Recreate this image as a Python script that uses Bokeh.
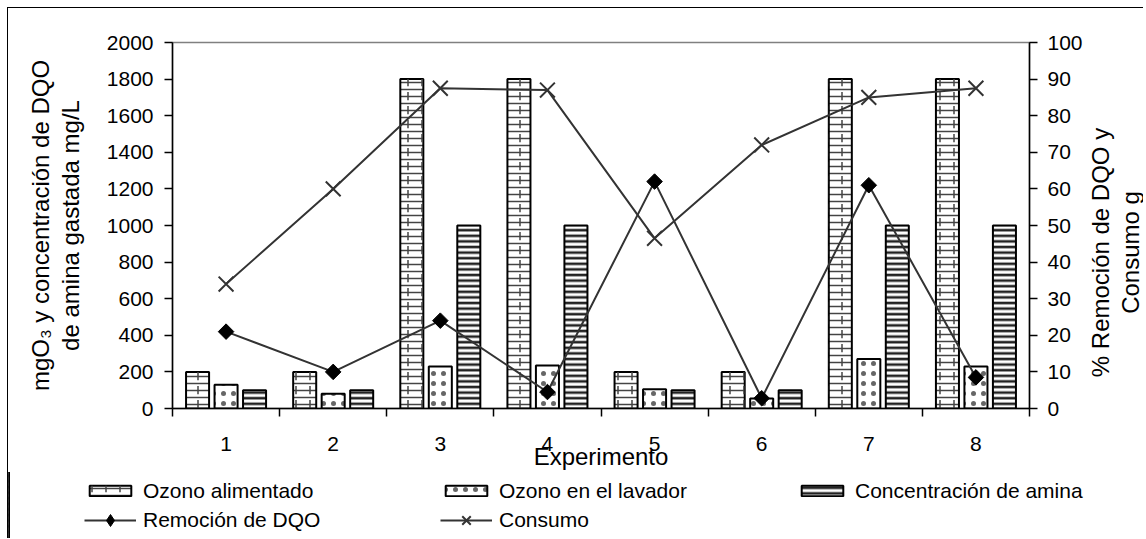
import math
from bokeh.plotting import figure
from bokeh.layouts import column, row
from bokeh.models import (Range1d, LinearAxis, FixedTicker, Legend, LegendItem,
                          ColumnDataSource)
from bokeh.core.properties import value
from bokeh.transform import dodge
from bokeh.embed import file_html
from bokeh.resources import INLINE

# ---------------- data ----------------
experimentos = [1, 2, 3, 4, 5, 6, 7, 8]
ozono_alimentado = [200, 200, 1800, 1800, 200, 200, 1800, 1800]
ozono_lavador = [130, 80, 230, 235, 105, 55, 270, 230]
concentracion_amina = [100, 100, 1000, 1000, 100, 100, 1000, 1000]
remocion_dqo = [21, 10, 24, 4.5, 62, 2.8, 61, 8.5]
consumo = [34, 60, 87.5, 87, 46.5, 72, 85, 87.5]
left_ticks = list(range(0, 2001, 200))
right_ticks = list(range(0, 101, 10))
cat_bounds = [0.5 + i for i in range(9)]
series_names = ["Ozono alimentado", "Ozono en el lavador", "Concentración de amina",
                "Remoción de DQO", "Consumo"]
x_title = "Experimento"
left_title = "mgO\u2083 y concentración de DQO\nde amina gastada mg/L"
right_title = "% Remoción de DQO y\nConsumo g"

src = ColumnDataSource(dict(x=experimentos, alim=ozono_alimentado, lav=ozono_lavador,
                            amina=concentracion_amina, rem=remocion_dqo, cons=consumo))

FONT = "Liberation Sans"
LC = "#333333"

BRICK_H = dict(fill_color="white", line_color="black", line_width=2,
               hatch_pattern="horizontal_line", hatch_color="#444444",
               hatch_scale=7, hatch_weight=1.5)
BRICK_V = dict(fill_alpha=0, line_alpha=0,
               hatch_pattern="vertical_dash", hatch_color="#444444",
               hatch_scale=14, hatch_weight=1.5)
DOTS = dict(fill_color="white", line_color="black", line_width=2,
            hatch_pattern="dot", hatch_color="#666666", hatch_scale=10, hatch_weight=0.6)
STRIPES = dict(fill_color="white", line_color="black", line_width=2,
               hatch_pattern="horizontal_line", hatch_color="#222222",
               hatch_scale=5.6, hatch_weight=2.6)
REM_LINE = dict(line_color=LC, line_width=2)
REM_MARK = dict(marker="square", angle=math.pi / 4, size=11, fill_color="black", line_color="black")
REM_MARK_LEG = dict(marker="diamond", size=14, fill_color="black", line_color="black")
CON_LINE = dict(line_color=LC, line_width=2)
CON_MARK = dict(marker="x", size=21, line_color=LC, line_width=2)

W = 0.215
OFF = 0.266

TOTAL_W = 1136
P_W = 1077
P_H = 464
Q_H = 66

# ---------------- main chart ----------------
p = figure(width=P_W, height=P_H, output_backend="svg", toolbar_location=None,
           x_range=Range1d(0.5, 8.5), y_range=Range1d(0, 2000),
           min_border_left=164, min_border_right=54, min_border_top=34, min_border_bottom=64)
p.extra_y_ranges = {"right": Range1d(0, 100)}
p.xgrid.visible = False
p.ygrid.visible = False
p.outline_line_color = "#808080"
p.outline_line_width = 1.5
p.background_fill_color = "white"
p.border_fill_color = "white"

p.vbar(x=dodge("x", -OFF, range=p.x_range), top="alim", width=W, source=src, **BRICK_H)
p.vbar(x=dodge("x", -OFF, range=p.x_range), top="alim", width=W, source=src, **BRICK_V)
p.vbar(x=dodge("x", 0, range=p.x_range), top="lav", width=W, source=src, **DOTS)
p.vbar(x=dodge("x", OFF, range=p.x_range), top="amina", width=W, source=src, **STRIPES)

p.line("x", "rem", source=src, y_range_name="right", **REM_LINE)
p.scatter("x", "rem", source=src, y_range_name="right", **REM_MARK)
p.line("x", "cons", source=src, y_range_name="right", **CON_LINE)
p.scatter("x", "cons", source=src, y_range_name="right", **CON_MARK)

def style_axis(ax):
    ax.axis_line_color = "black"
    ax.axis_line_width = 1.5
    ax.major_tick_line_color = "black"
    ax.major_tick_line_width = 1.5
    ax.minor_tick_line_color = "black"
    ax.minor_tick_line_width = 1.5
    ax.major_label_text_font = FONT
    ax.major_label_text_font_size = "21px"
    ax.major_label_text_color = "black"
    ax.axis_label_text_font = FONT
    ax.axis_label_text_font_size = "24px"
    ax.axis_label_text_font_style = "normal"
    ax.axis_label_text_color = "black"

xa = p.xaxis[0]
style_axis(xa)
xa.ticker = FixedTicker(ticks=experimentos, minor_ticks=cat_bounds)
xa.major_tick_out = 0
xa.major_tick_in = 0
xa.minor_tick_out = 8
xa.minor_tick_in = 0
xa.major_label_standoff = 20
xa.axis_label = x_title
xa.axis_label_standoff = -11

ya = p.yaxis[0]
style_axis(ya)
ya.ticker = FixedTicker(ticks=left_ticks, minor_ticks=[])
ya.major_tick_out = 8
ya.major_tick_in = 0
ya.major_label_standoff = 11
ya.axis_label = left_title
ya.axis_label_text_line_height = 1.1
ya.axis_label_standoff = 20

ra = LinearAxis(y_range_name="right")
style_axis(ra)
ra.ticker = FixedTicker(ticks=right_ticks, minor_ticks=[])
ra.major_tick_out = 8
ra.major_tick_in = 0
ra.major_label_standoff = 10
p.add_layout(ra, "right")

# ---------------- right title strip ----------------
R_W = TOTAL_W - P_W
r = figure(width=R_W, height=P_H, output_backend="svg", toolbar_location=None,
           x_range=Range1d(0, R_W), y_range=Range1d(0, P_H),
           x_axis_type=None, y_axis_type=None, min_border=0)
r.frame_align = False
r.xgrid.visible = False
r.ygrid.visible = False
r.outline_line_color = None
r.background_fill_color = "white"
r.border_fill_color = "white"
r.text(x=[31], y=[P_H - 244], text=[right_title], angle=math.pi / 2,
       text_font=value(FONT), text_font_size="24px", text_color="black",
       text_align="center", text_baseline="middle", text_line_height=1.1)

# ---------------- legend strip ----------------
q = figure(width=TOTAL_W, height=Q_H, output_backend="svg", toolbar_location=None,
           x_range=Range1d(100, 101), y_range=Range1d(0, 1), x_axis_type=None, y_axis_type=None,
           min_border=0)
q.frame_align = False
q.xgrid.visible = False
q.ygrid.visible = False
q.outline_line_color = None
q.background_fill_color = "white"
q.border_fill_color = "white"

lg_alim = [q.vbar(x="x", top="alim", width=W, source=src, **BRICK_H),
           q.vbar(x="x", top="alim", width=W, source=src, **BRICK_V)]
lg_lav = [q.vbar(x="x", top="lav", width=W, source=src, **DOTS)]
lg_am = [q.vbar(x="x", top="amina", width=W, source=src, **STRIPES)]
lg_rem = [q.line("x", "rem", source=src, **REM_LINE), q.scatter("x", "rem", source=src, **REM_MARK_LEG)]
lg_con = [q.line("x", "cons", source=src, **CON_LINE), q.scatter("x", "cons", source=src, **CON_MARK)]

LEG = dict(orientation="horizontal", glyph_width=52, label_standoff=7,
           label_width=297, label_height=29, spacing=0, padding=0, margin=0,
           border_line_color=None, background_fill_alpha=0,
           label_text_font=FONT, label_text_font_size="21px", label_text_color="black")
leg1 = Legend(items=[LegendItem(label=series_names[0], renderers=lg_alim),
                     LegendItem(label=series_names[1], renderers=lg_lav),
                     LegendItem(label=series_names[2], renderers=lg_am)],
              location=(76, 33), glyph_height=13, **LEG)
leg2 = Legend(items=[LegendItem(label=series_names[3], renderers=lg_rem),
                     LegendItem(label=series_names[4], renderers=lg_con)],
              location=(76, 3), glyph_height=30, **LEG)
q.add_layout(leg1, "center")
q.add_layout(leg2, "center")

p.styles = {"border-left": "1px solid #000"}
q.styles = {"border-left": "1px solid #000"}
layout = column(row(p, r, spacing=0), q, spacing=0)
layout.styles = {"border-top": "1px solid #000", "margin-left": "7px", "margin-top": "7px"}

open("out.html", "w").write(file_html(layout, INLINE))
